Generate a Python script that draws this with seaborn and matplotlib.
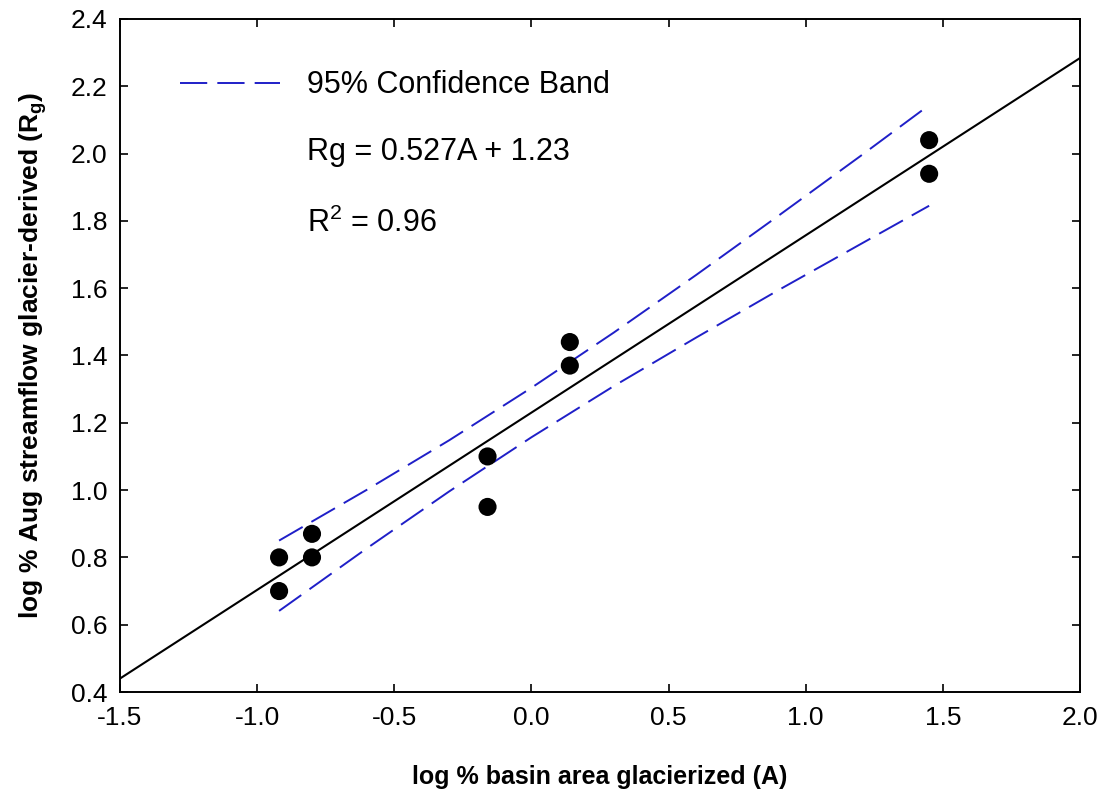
import matplotlib
matplotlib.use("Agg")
import matplotlib.pyplot as plt
import seaborn as sns

# observed points (log % basin area glacierized, log % Aug streamflow glacier-derived)
area_x = [-0.92, -0.92, -0.80, -0.80, -0.16, -0.16, 0.14, 0.14, 1.45, 1.45]
flow_y = [0.80, 0.70, 0.87, 0.80, 1.10, 0.95, 1.44, 1.37, 2.04, 1.94]

# regression line endpoints, Rg = 0.527A + 1.23
fit_x = [-1.5, 2.0]
fit_y = [0.44, 2.284]

# 95% confidence band
band_x = [-0.92, -0.6, -0.3, 0.0, 0.3, 0.6, 0.9, 1.2, 1.45]
band_upper = [0.850, 1.001, 1.148, 1.304, 1.468, 1.639, 1.815, 1.993, 2.144]
band_lower = [0.641, 0.827, 0.996, 1.157, 1.309, 1.453, 1.594, 1.731, 1.845]

xticks = [-1.5, -1.0, -0.5, 0.0, 0.5, 1.0, 1.5, 2.0]
yticks = [0.4, 0.6, 0.8, 1.0, 1.2, 1.4, 1.6, 1.8, 2.0, 2.2, 2.4]

sns.set_style("ticks")
plt.rcParams['font.family'] = ['Liberation Sans', 'DejaVu Sans']
plt.rcParams['mathtext.fontset'] = 'custom'
plt.rcParams['mathtext.rm'] = 'Liberation Sans'
plt.rcParams['mathtext.it'] = 'Liberation Sans:italic'
plt.rcParams['mathtext.bf'] = 'Liberation Sans:bold'
plt.rcParams['text.color'] = 'black'
plt.rcParams['axes.labelcolor'] = 'black'

fig = plt.figure(figsize=(11.02, 7.92), dpi=100)
ax = fig.add_axes([120 / 1102, 1 - 692 / 792, 960 / 1102, 673 / 792])

band_color = '#1f1fc8'
dash = (0, (14, 5.2))

sns.lineplot(x=fit_x, y=fit_y, ax=ax, color='black', lw=1.5)
sns.lineplot(x=band_x, y=band_upper, ax=ax, color=band_color, lw=1.4, linestyle=dash)
sns.lineplot(x=band_x, y=band_lower, ax=ax, color=band_color, lw=1.4, linestyle=dash)
sns.scatterplot(x=area_x, y=flow_y, ax=ax, color='black', s=170, edgecolor='none', zorder=5)

ax.set_xlim(-1.5, 2.0)
ax.set_ylim(0.4, 2.4)
ax.set_xticks(xticks)
ax.set_yticks(yticks)
ax.set_xticklabels([f'{v:.1f}' for v in xticks])
ax.set_yticklabels([f'{v:.1f}' for v in yticks])
ax.tick_params(direction='in', length=6, width=1.2, top=True, right=True,
               labelsize=19, colors='black')
ax.tick_params(axis='x', pad=10)
ax.tick_params(axis='y', pad=9)
for sp in ax.spines.values():
    sp.set_linewidth(1.4)
    sp.set_color('black')

ax.set_xlabel('log % basin area glacierized (A)', fontsize=18, fontweight='bold', labelpad=25)
ax.set_ylabel(r'log % Aug streamflow glacier-derived (R$_\mathbf{g}$)', fontsize=19,
              fontweight='bold', labelpad=16)

# legend / annotations
ax.plot([0.0625, 0.167], [0.905, 0.905], transform=ax.transAxes, color=band_color,
        lw=1.4, linestyle=dash)
ax.text(0.195, 0.890, '95% Confidence Band', transform=ax.transAxes, fontsize=22, va='baseline')
ax.text(0.195, 0.7905, 'Rg = 0.527A + 1.23', transform=ax.transAxes, fontsize=22, va='baseline')
ax.text(0.195, 0.6835, r'R$^2$ = 0.96', transform=ax.transAxes, fontsize=22, va='baseline')

fig.savefig('out.png', dpi=100)
